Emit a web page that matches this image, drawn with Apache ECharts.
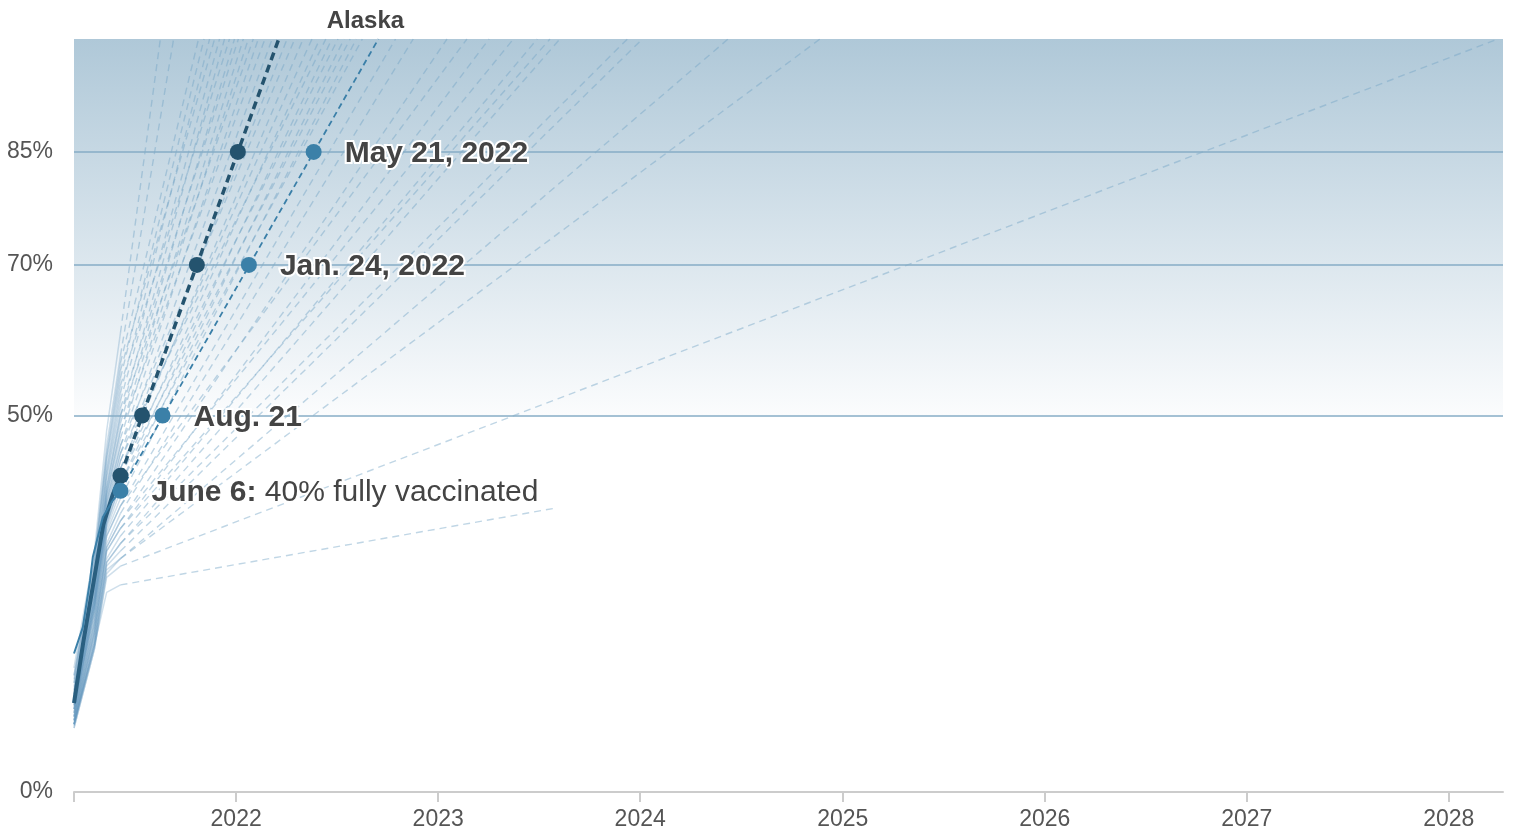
<!DOCTYPE html>
<html>
<head>
<meta charset="utf-8">
<script src="https://cdn.jsdelivr.net/npm/echarts@6/dist/echarts.min.js"></script>
<style>
html,body{margin:0;padding:0;background:#ffffff;}
#chart{width:1515px;height:832px;}
</style>
</head>
<body>
<div id="chart"></div>
<script>
// ---------------- data ----------------
const xMin = '2021-03-14';
const xMax = '2028-04-08';
const yearTicks = [2022, 2023, 2024, 2025, 2026, 2027, 2028];
const yTickValues = [0, 50, 70, 85];
const refLines = [50, 70, 85];
const bandRange = [50, 100];

// actual-data dates shared by the faint state lines
const actualDates = ['2021-03-14', '2021-04-20', '2021-05-12', '2021-06-06'];

// faint state lines (values in % fully vaccinated)
const stateMar14 = [16.5,15.5,15,14.5,14,15.5,13.5,13,14.5,12.5,13.5,12.5,12,13,11.5,12.5,11.5,11,12,11,11.5,10.5,12,10.5,11,10,11,10,10.5,10,9.5,9.5,10,9,9.5,9,9.5,9,9,8.8,8.5,9,8.5,9];
const stateApr20 = [32,31,31,30,29,30.5,28.5,28,29.5,27.5,28.5,27,26.5,27.5,26,27,25.5,25,26,25,25.5,24.5,26,24,25,23.5,24.5,23,24,22.5,22,21.5,22.5,21,21.5,20.5,21,20,20,19.5,19,19.5,19,19.5];
const stateMay12 = [48,46,45,44,42.5,44.5,42,40.5,43,40,41.5,39.5,39,40.5,38.5,39.5,37.5,37,38.5,36.5,37,36,38,35.5,36.5,35,36,34.5,35.5,34,33,32.5,34,32,32.5,31,32,30.5,30.5,30,29,29.5,28.5,26.5];
const stateJun6 = [61,58,57,55,53,56,52,50,54,49,51,48,47,50,46,48,45,44,46,43,44,42,45,41,43,40,42,39,41,38,37,36,38,35,36,34,35,33,33,32,31,31,30,27.5];
const stateEndDate = ['2021-08-17','2021-09-10','2021-10-25','2021-11-04','2021-11-14','2021-11-23','2021-12-02','2021-12-11','2021-12-20','2021-12-29',
  '2022-01-05','2022-01-14','2022-01-23','2022-02-01','2022-02-10','2022-02-22','2022-03-07','2022-04-03','2022-04-17','2022-05-02',
  '2022-05-18','2022-06-01','2022-06-12','2022-06-23','2022-07-04','2022-07-15','2022-07-26','2022-08-06','2022-08-17','2022-10-16',
  '2022-11-17','2023-01-17','2023-02-22','2023-04-03','2023-05-17','2023-06-29','2023-07-22','2023-08-09','2023-12-09','2024-01-05',
  '2024-06-08','2024-11-21','2028-03-30','2023-08-01'];
const stateEndValue = [100,100,100,100,100,100,100,100,100,100,100,100,100,100,100,100,100,100,100,100,100,100,100,100,100,100,100,100,100,100,100,100,100,100,100,100,100,100,100,100,100,100,100,37.7];

// United States
const usActualDates = ['2021-03-14','2021-03-31','2021-04-21','2021-05-06','2021-05-23','2021-06-06'];
const usActualValues = [11.8, 20, 29, 35.5, 39.5, 42];
const usProjDates = ['2021-06-06', '2022-03-19'];
const usProjValues = [42, 100];
const usMilestoneDates = ['2021-06-06','2021-07-15','2021-10-22','2022-01-04'];
const usMilestoneValues = [42, 50, 70, 85];

// Alaska
const akActualDates = ['2021-03-14','2021-03-30','2021-04-12','2021-04-17','2021-05-05','2021-05-23','2021-06-06'];
const akActualValues = [18.4, 21.9, 28.1, 31.2, 36.5, 38.7, 40];
const akProjDates = ['2021-06-06', '2022-09-15'];
const akProjValues = [40, 100];
const akMilestoneDates = ['2021-06-06','2021-08-21','2022-01-24','2022-05-21'];
const akMilestoneValues = [40, 50, 70, 85];
const akMilestoneLabels = ['June 6:', 'Aug. 21', 'Jan. 24, 2022', 'May 21, 2022'];
const akFirstNote = '40% fully vaccinated';
const akName = 'Alaska';

// ---------------- chart ----------------
const FONT = '"Liberation Sans", Arial, Helvetica, sans-serif';
const ts = s => { const p = s.split('-').map(Number); return new Date(p[0], p[1] - 1, p[2]).getTime(); };
const pair = (dates, vals) => dates.map((d, i) => [ts(d), vals[i]]);
const yearStarts = yearTicks.map(y => new Date(y, 0, 1).getTime());
const minTs = ts(xMin);
const maxTs = ts(xMax);

const series = [];

// gradient band above 50%
series.push({
  type: 'line', data: [[minTs, 0]], symbol: 'none', lineStyle: { opacity: 0 }, silent: true, z: 0,
  markArea: {
    silent: true,
    itemStyle: {
      opacity: 1,
      color: { type: 'linear', x: 0, y: 0, x2: 0, y2: 1,
        colorStops: [{ offset: 0, color: '#afc8d8' }, { offset: 1, color: '#fbfcfd' }] }
    },
    data: [[{ yAxis: bandRange[1] }, { yAxis: bandRange[0] }]]
  }
});

// faint state lines
stateJun6.forEach((v, i) => {
  series.push({
    type: 'line', silent: true, symbol: 'none', z: 1,
    data: pair(actualDates, [stateMar14[i], stateApr20[i], stateMay12[i], stateJun6[i]]),
    lineStyle: { color: 'rgba(95,150,188,0.30)', width: 1.5 }
  });
  series.push({
    type: 'line', silent: true, symbol: 'none', z: 1,
    data: pair([actualDates[3], stateEndDate[i]], [v, stateEndValue[i]]),
    lineStyle: { color: 'rgba(115,165,198,0.45)', width: 1.4, type: [7, 5] }
  });
});

// reference lines
series.push({
  type: 'line', data: [[minTs, 0]], symbol: 'none', lineStyle: { opacity: 0 }, silent: true, z: 2,
  markLine: {
    silent: true, symbol: ['none', 'none'], label: { show: false },
    lineStyle: { color: '#86adc6', width: 1.5, type: 'solid' },
    data: refLines.map(v => ({ yAxis: v }))
  }
});

// US
series.push({
  type: 'line', silent: true, symbol: 'none', z: 3,
  data: pair(usActualDates, usActualValues),
  lineStyle: { color: '#2a5f80', width: 4 }
});
series.push({
  type: 'line', silent: true, symbol: 'none', z: 3,
  data: pair(usProjDates, usProjValues),
  lineStyle: { color: '#24536e', width: 3.5, type: [8, 5] }
});

// Alaska
series.push({
  type: 'line', silent: true, symbol: 'none', z: 4,
  data: pair(akActualDates, akActualValues),
  lineStyle: { color: '#3a7fa8', width: 2 }
});
series.push({
  type: 'line', silent: true, symbol: 'none', z: 4,
  data: pair(akProjDates, akProjValues),
  lineStyle: { color: '#3a7fa8', width: 1.8, type: [6, 4] }
});

// markers
series.push({
  type: 'scatter', silent: true, z: 5, symbolSize: 16,
  itemStyle: { color: '#24536e', opacity: 1 },
  data: pair(usMilestoneDates, usMilestoneValues)
});
const txt = { color: '#444444', fontSize: 30, fontFamily: FONT, textBorderColor: '#ffffff', textBorderWidth: 4 };
series.push({
  type: 'scatter', silent: true, z: 6, symbolSize: 16,
  itemStyle: { color: '#3b80a8', opacity: 1 },
  data: pair(akMilestoneDates, akMilestoneValues),
  label: {
    show: true, position: 'right', distance: 23, offset: [0, 2],
    fontSize: 30, fontFamily: FONT, color: '#444444', textBorderColor: '#ffffff', textBorderWidth: 4,
    formatter: p => p.dataIndex === 0
      ? '{b|' + akMilestoneLabels[0] + '} {r|' + akFirstNote + '}'
      : '{b|' + akMilestoneLabels[p.dataIndex] + '}',
    rich: {
      b: Object.assign({ fontWeight: 'bold' }, txt),
      r: Object.assign({ fontWeight: 'normal' }, txt)
    }
  }
});
// Alaska name at the end of its projection
series.push({
  type: 'scatter', silent: true, z: 6, symbolSize: 0.01, clip: false,
  itemStyle: { color: '#444444' },
  data: pair([akProjDates[1]], [akProjValues[1]]),
  label: {
    show: true, position: 'top', distance: 6, offset: [-13, 0],
    formatter: akName, fontSize: 24, fontWeight: 'bold', fontFamily: FONT, color: '#444444', opacity: 1
  }
});

const chart = echarts.init(document.getElementById('chart'), null, { renderer: 'canvas' });
chart.setOption({
  animation: false,
  backgroundColor: '#ffffff',
  grid: { left: 74, right: 12, top: 39, bottom: 40, containLabel: false },
  xAxis: {
    type: 'value', min: minTs, max: maxTs,
    axisLine: { show: true, lineStyle: { color: '#cccccc', width: 2 } },
    axisTick: { show: true, length: 10, lineStyle: { color: '#cccccc', width: 2 }, customValues: [minTs].concat(yearStarts) },
    axisLabel: {
      customValues: yearStarts,
      formatter: v => String(new Date(v).getFullYear()),
      color: '#555555', fontSize: 23, fontFamily: FONT, margin: 16
    },
    splitLine: { show: false }
  },
  yAxis: {
    type: 'value', min: 0, max: 100,
    axisLine: { show: false }, axisTick: { show: false }, splitLine: { show: false },
    axisLabel: { customValues: yTickValues, formatter: '{value}%', color: '#555555', fontSize: 23, fontFamily: FONT, margin: 21, padding: [4, 0, 0, 0] }
  },
  series: series
});
</script>
</body>
</html>
